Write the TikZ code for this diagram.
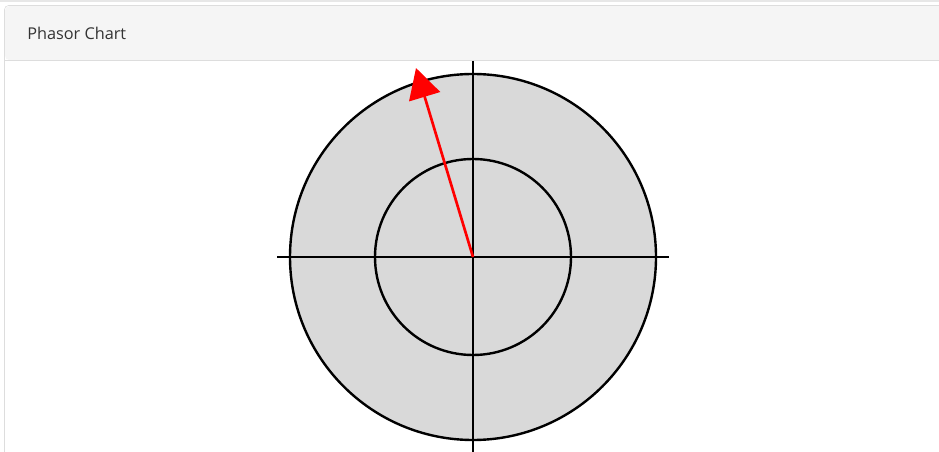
\documentclass[tikz,border=0pt]{standalone}
\usepackage{fontspec}
\setmainfont{Open Sans}
\usepackage{tikz}
\usetikzlibrary{arrows.meta}
\definecolor{headfill}{HTML}{F5F5F5}
\definecolor{panelline}{HTML}{DDDDDD}
\definecolor{titletext}{HTML}{333333}
\definecolor{discfill}{HTML}{D9D9D9}
\begin{document}
\begin{tikzpicture}[x=0.75pt,y=-0.75pt,>=Stealth]
\useasboundingbox (0,0) rectangle (939,452);
\begin{scope}
\clip (0,0) rectangle (939,452);
\draw[line width=1.5pt,panelline!70](0,1)--(939,1);
\draw[panelline,fill=white,rounded corners=3pt](4.5,470)--(4.5,5.5)--(950,5.5)--(950,470);
\fill[headfill,rounded corners=3pt](5.2,60)--(5.2,6.2)--(950,6.2)--(950,60)--cycle;
\draw[panelline](4.5,60)--(939,60);
\node[anchor=base west,inner sep=0pt,text=titletext,font=\fontsize{12.2pt}{14pt}\selectfont](title) at (27,39.5){Phasor Chart};
% phasor chart
\coordinate (o) at (473,257);
\coordinate (tip) at (416,68);
\draw[line width=1.8pt,fill=discfill](o) circle (183);
\draw[line width=1.8pt](o) circle (98);
\draw[line width=1.8pt](277,257)--(669,257);
\draw[line width=1.8pt](473,61)--(473,460);
\draw[red,line width=2pt,-{Triangle[length=22.5pt,width=24pt]}](o)--(tip);
\end{scope}
\end{tikzpicture}
\end{document}
